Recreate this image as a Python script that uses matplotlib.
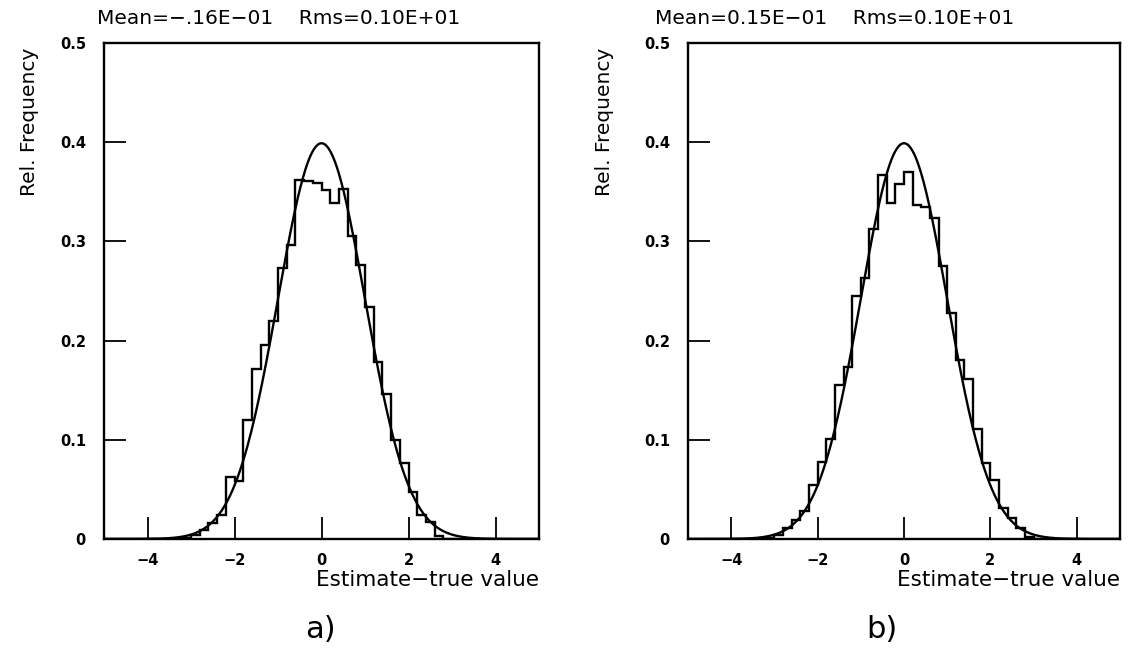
import numpy as np
import matplotlib
matplotlib.use("Agg")
import matplotlib.pyplot as plt

# histogram bins: 50 bins of 0.2 from -5 to 5
bin_lo, bin_hi, n_bins = -5.0, 5.0, 50

# relative frequency per bin
freq_a = [0, 0, 0, 0, 0, 0, 0, 0, 0, 0.001,
          0.004, 0.009, 0.016, 0.024, 0.063, 0.058, 0.120, 0.171, 0.196, 0.220,
          0.273, 0.296, 0.362, 0.361, 0.359, 0.352, 0.339, 0.353, 0.305, 0.276,
          0.234, 0.178, 0.146, 0.100, 0.077, 0.047, 0.024, 0.017, 0.003, 0,
          0, 0, 0, 0, 0, 0, 0, 0, 0, 0]
freq_b = [0, 0, 0, 0, 0, 0, 0, 0, 0, 0.001,
          0.004, 0.011, 0.019, 0.028, 0.054, 0.078, 0.101, 0.155, 0.173, 0.245,
          0.263, 0.313, 0.367, 0.339, 0.358, 0.370, 0.337, 0.335, 0.324, 0.275,
          0.228, 0.180, 0.161, 0.111, 0.077, 0.059, 0.031, 0.021, 0.011, 0.002,
          0, 0, 0, 0, 0, 0, 0, 0, 0, 0]

# expected density: standard normal
mu, sigma = 0.0, 1.0

titles = ["Mean=\u2212.16E\u221201    Rms=0.10E+01",
          "Mean=0.15E\u221201    Rms=0.10E+01"]
panel_tags = ["a)", "b)"]
xticks = [-4, -2, 0, 2, 4]
xtick_labels = ["\u22124", "\u22122", "0", "2", "4"]
yticks = [0, 0.1, 0.2, 0.3, 0.4, 0.5]
ytick_labels = ["0", "0.1", "0.2", "0.3", "0.4", "0.5"]

W, H = 1131, 656
fig = plt.figure(figsize=(W / 100, H / 100), dpi=100)

edges = np.linspace(bin_lo, bin_hi, n_bins + 1)
xs = np.linspace(bin_lo, bin_hi, 500)
curve = np.exp(-0.5 * ((xs - mu) / sigma) ** 2) / (sigma * np.sqrt(2 * np.pi))

# pixel layout of each panel: (axes left, axes right, title x, ylabel x, tag x)
panels = [(104, 539, 97, 30, 320), (688, 1120, 655, 605, 882)]
top_px, bot_px = 43, 539

for freq, title, tag, (l, r, tx, yx, gx) in zip([freq_a, freq_b], titles, panel_tags, panels):
    ax = fig.add_axes([l / W, 1 - bot_px / H, (r - l) / W, (bot_px - top_px) / H])
    ax.stairs(freq, edges, color="black", lw=1.7)
    ax.plot(xs, curve, color="black", lw=1.7)
    ax.set_xlim(bin_lo, bin_hi)
    ax.set_ylim(0, 0.5)
    ax.set_xticks(xticks)
    ax.set_xticklabels(xtick_labels)
    ax.set_yticks(yticks)
    ax.set_yticklabels(ytick_labels)
    ax.tick_params(direction="in", length=16, width=1.3, labelsize=10.5, pad=10)
    ax.tick_params(axis="y", pad=13)
    for lab in ax.get_xticklabels() + ax.get_yticklabels():
        lab.set_fontweight("bold")
    for s in ax.spines.values():
        s.set_linewidth(1.7)

    fig.text(tx / W, 1 - 18 / H, title, fontsize=14.5, ha="left", va="center")
    fig.text(yx / W, 1 - 122 / H, "Rel. Frequency", fontsize=14.5, rotation=90,
             ha="center", va="center")
    fig.text(r / W, 1 - 580 / H, "Estimate\u2212true value", fontsize=15.5,
             ha="right", va="center")
    fig.text(gx / W, 1 - 630 / H, tag, fontsize=22, ha="center", va="center")

fig.savefig("out.png", dpi=100)
